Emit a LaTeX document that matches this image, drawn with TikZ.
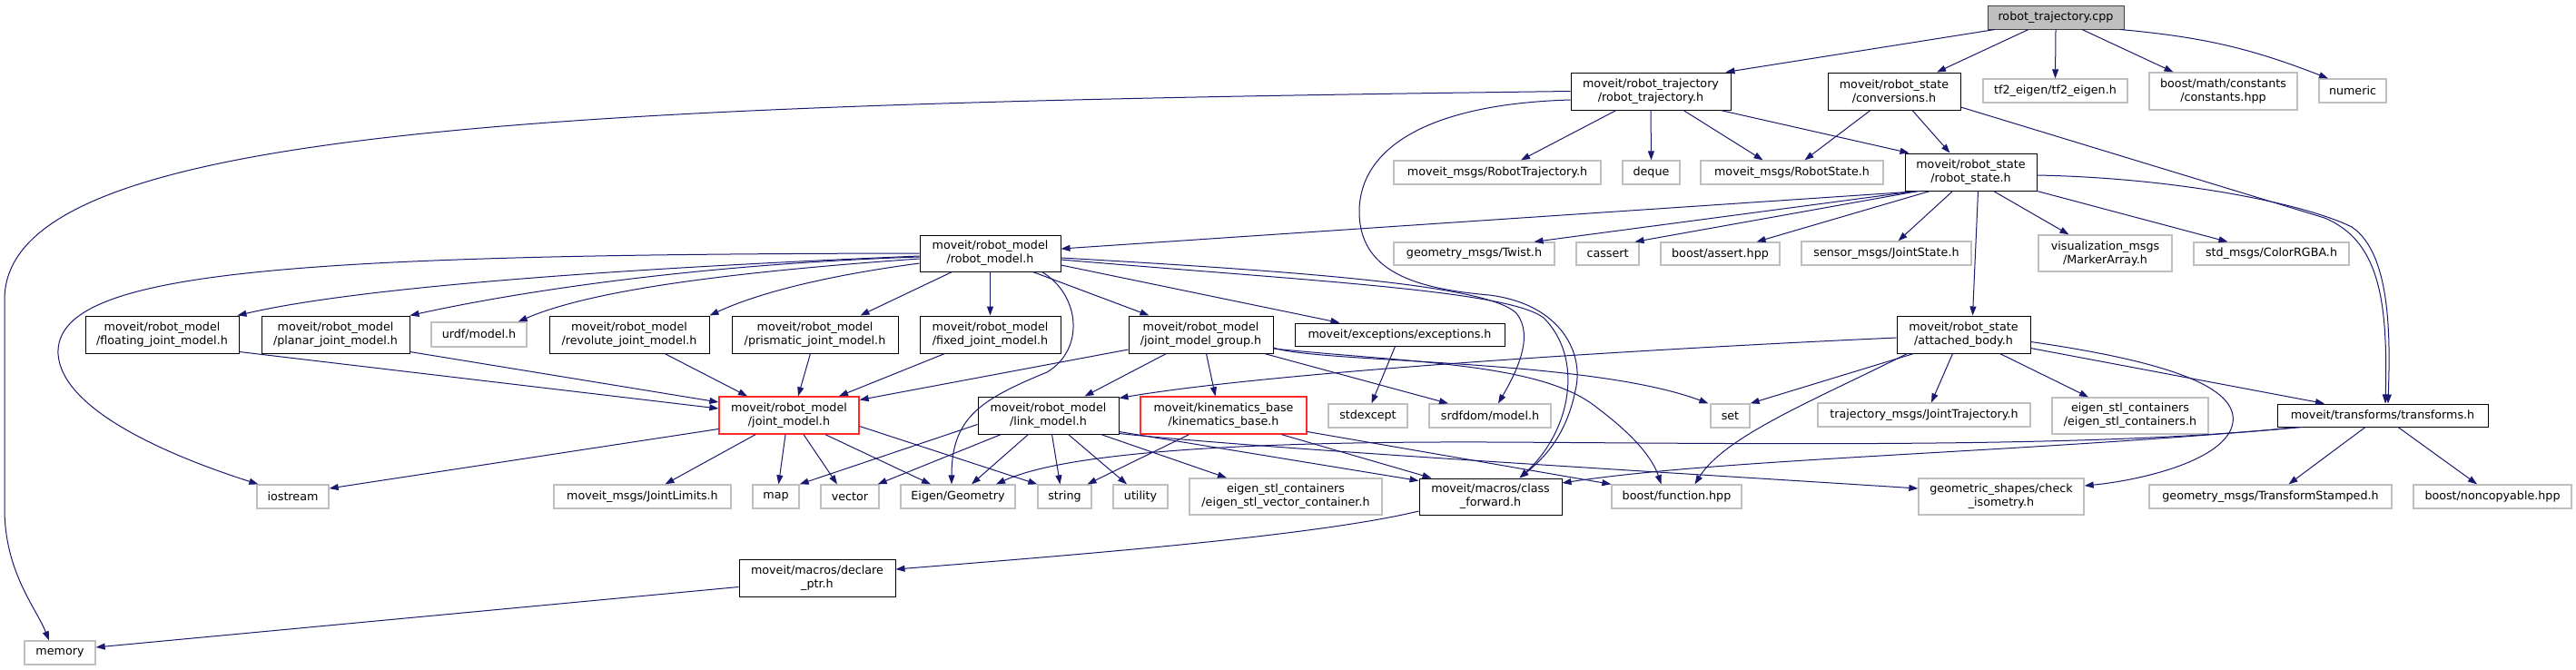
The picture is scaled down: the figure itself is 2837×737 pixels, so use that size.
\documentclass[tikz,border=0pt]{standalone}
\usepackage{fontspec}
\setmainfont{DejaVu Sans}
\usetikzlibrary{arrows.meta}
\definecolor{edgeblue}{HTML}{191970}
\definecolor{extgray}{HTML}{BFBFBF}
\definecolor{truncred}{HTML}{FF2A2A}
\definecolor{rootfill}{HTML}{BFBFBF}
\definecolor{rootborder}{HTML}{404040}
\tikzset{
  base/.style={rectangle, inner sep=0pt, align=center, font=\fontsize{12.7pt}{15pt}\selectfont},
  doc/.style={base, draw=black, line width=1pt},
  ext/.style={base, draw=extgray, line width=1.3pt},
  trunc/.style={base, draw=truncred, line width=1.3pt},
  rootbox/.style={base, draw=rootborder, fill=rootfill, line width=1pt},
  dep/.style={draw=edgeblue, line width=1pt, -{Triangle[length=10pt,width=7pt]}},
}
\begin{document}
\begin{tikzpicture}[x=1pt,y=-1pt]
\fill[white] (0,0) rectangle (2837,737);
\useasboundingbox (0,0) rectangle (2837,737);
% ---- nodes
\node[rootbox, minimum width=150pt, minimum height=26pt] (root) at (2264,19) {robot\_trajectory.cpp};
\node[doc, minimum width=176pt, minimum height=41pt] (rth) at (1818,100.5) {moveit/robot\_trajectory\\/robot\_trajectory.h};
\node[doc, minimum width=146pt, minimum height=41pt] (conv) at (2086,100.5) {moveit/robot\_state\\/conversions.h};
\node[ext, minimum width=159pt, minimum height=26pt] (tf2) at (2263.5,100) {tf2\_eigen/tf2\_eigen.h};
\node[ext, minimum width=163pt, minimum height=41pt] (const) at (2448.5,100.5) {boost/math/constants\\/constants.hpp};
\node[ext, minimum width=74pt, minimum height=26pt] (numeric) at (2591,100) {numeric};
\node[ext, minimum width=228pt, minimum height=26pt] (rtmsg) at (1649,190) {moveit\_msgs/RobotTrajectory.h};
\node[ext, minimum width=63pt, minimum height=26pt] (deque) at (1818.5,190) {deque};
\node[ext, minimum width=201pt, minimum height=26pt] (rsmsg) at (1973.5,190) {moveit\_msgs/RobotState.h};
\node[doc, minimum width=145pt, minimum height=41pt] (rsh) at (2170.5,189.5) {moveit/robot\_state\\/robot\_state.h};
\node[doc, minimum width=155pt, minimum height=40pt] (rmh) at (1090.5,279) {moveit/robot\_model\\/robot\_model.h};
\node[ext, minimum width=177pt, minimum height=25pt] (twist) at (1623.5,279.5) {geometry\_msgs/Twist.h};
\node[ext, minimum width=69pt, minimum height=25pt] (cassert) at (1770.5,279.5) {cassert};
\node[ext, minimum width=131pt, minimum height=25pt] (bassert) at (1894.5,279.5) {boost/assert.hpp};
\node[ext, minimum width=187pt, minimum height=26pt] (jstate) at (2077.5,279) {sensor\_msgs/JointState.h};
\node[ext, minimum width=147pt, minimum height=40pt] (marker) at (2318.5,279) {visualization\_msgs\\/MarkerArray.h};
\node[ext, minimum width=171pt, minimum height=25pt] (color) at (2501.5,279.5) {std\_msgs/ColorRGBA.h};
\node[doc, minimum width=169pt, minimum height=41pt] (floating) at (178.5,368.5) {moveit/robot\_model\\/floating\_joint\_model.h};
\node[doc, minimum width=163pt, minimum height=41pt] (planar) at (369.5,368.5) {moveit/robot\_model\\/planar\_joint\_model.h};
\node[ext, minimum width=105pt, minimum height=27pt] (urdf) at (527.5,368.5) {urdf/model.h};
\node[doc, minimum width=176pt, minimum height=41pt] (revolute) at (693,368.5) {moveit/robot\_model\\/revolute\_joint\_model.h};
\node[doc, minimum width=183pt, minimum height=41pt] (prismatic) at (897.5,368.5) {moveit/robot\_model\\/prismatic\_joint\_model.h};
\node[doc, minimum width=155pt, minimum height=41pt] (fixed) at (1090.5,368.5) {moveit/robot\_model\\/fixed\_joint\_model.h};
\node[doc, minimum width=159pt, minimum height=41pt] (jmg) at (1322.5,368.5) {moveit/robot\_model\\/joint\_model\_group.h};
\node[doc, minimum width=231pt, minimum height=25pt] (exc) at (1541.5,368.5) {moveit/exceptions/exceptions.h};
\node[doc, minimum width=147pt, minimum height=41pt] (att) at (2162.5,368.5) {moveit/robot\_state\\/attached\_body.h};
\node[trunc, minimum width=154pt, minimum height=41pt] (jm) at (869,457.5) {moveit/robot\_model\\/joint\_model.h};
\node[doc, minimum width=155pt, minimum height=41pt] (lm) at (1154.5,457.5) {moveit/robot\_model\\/link\_model.h};
\node[trunc, minimum width=183pt, minimum height=41pt] (kb) at (1347.5,457.5) {moveit/kinematics\_base\\/kinematics\_base.h};
\node[ext, minimum width=87pt, minimum height=26pt] (stdexc) at (1506.5,458) {stdexcept};
\node[ext, minimum width=134pt, minimum height=26pt] (srdf) at (1641,458) {srdfdom/model.h};
\node[ext, minimum width=43pt, minimum height=26pt] (set) at (1905.5,458) {set};
\node[ext, minimum width=234pt, minimum height=26pt] (jtraj) at (2119,457) {trajectory\_msgs/JointTrajectory.h};
\node[ext, minimum width=172pt, minimum height=40pt] (esc) at (2346,458) {eigen\_stl\_containers\\/eigen\_stl\_containers.h};
\node[doc, minimum width=232pt, minimum height=25pt] (tf) at (2624,457.5) {moveit/transforms/transforms.h};
\node[ext, minimum width=79pt, minimum height=26pt] (iostream) at (322.5,547) {iostream};
\node[ext, minimum width=195pt, minimum height=26pt] (jlim) at (707.5,547) {moveit\_msgs/JointLimits.h};
\node[ext, minimum width=51pt, minimum height=26pt] (map) at (854.5,547) {map};
\node[ext, minimum width=64pt, minimum height=26pt] (vector) at (936,547) {vector};
\node[ext, minimum width=126pt, minimum height=26pt] (eigen) at (1055,547) {Eigen/Geometry};
\node[ext, minimum width=59pt, minimum height=26pt] (string) at (1172.5,547) {string};
\node[ext, minimum width=60pt, minimum height=26pt] (utility) at (1256,547) {utility};
\node[ext, minimum width=212pt, minimum height=40pt] (esvc) at (1416,547) {eigen\_stl\_containers\\/eigen\_stl\_vector\_container.h};
\node[doc, minimum width=157pt, minimum height=40pt] (cf) at (1641.5,547) {moveit/macros/class\\\_forward.h};
\node[ext, minimum width=143pt, minimum height=26pt] (bfunc) at (1846.5,547) {boost/function.hpp};
\node[ext, minimum width=182pt, minimum height=40pt] (ciso) at (2204,547) {geometric\_shapes/check\\\_isometry.h};
\node[ext, minimum width=267pt, minimum height=26pt] (tstamp) at (2500.5,547) {geometry\_msgs/TransformStamped.h};
\node[ext, minimum width=174pt, minimum height=26pt] (noncopy) at (2745,547) {boost/noncopyable.hpp};
\node[doc, minimum width=172pt, minimum height=41pt] (dptr) at (900,636.5) {moveit/macros/declare\\\_ptr.h};
\node[ext, minimum width=78pt, minimum height=26pt] (memory) at (66,719) {memory};
% ---- edges from robot_trajectory.cpp
\draw[dep] ([xshift=-67pt]root.south) -- ([xshift=-6pt]rth.north east);
\draw[dep] ([xshift=-30pt]root.south) -- ([xshift=47pt]conv.north);
\draw[dep] (root.south) -- (tf2.north);
\draw[dep] ([xshift=29pt]root.south) -- ([xshift=-55pt]const.north);
\draw[dep] ([xshift=71pt]root.south) to[bend left=8] ([xshift=-27pt]numeric.north);
% ---- robot_trajectory.h
\draw[dep] (rth.west) .. controls (600,115) and (5,140) .. (5,330) -- (5,560) .. controls (5,630) and (40,670) .. ([xshift=-12pt]memory.north);
\draw[dep] ([xshift=-38pt]rth.south) -- ([xshift=26pt]rtmsg.north);
\draw[dep] (rth.south) -- (deque.north);
\draw[dep] ([xshift=36pt]rth.south) -- ([xshift=-32pt]rsmsg.north);
\draw[dep] ([xshift=77pt]rth.south) -- ([xshift=5pt]rsh.north west);
\draw[dep] ([yshift=-9.5pt]rth.west) .. controls (1560,115) and (1497,170) .. (1497,233) .. controls (1497,300) and (1560,318) .. (1640,325) .. controls (1720,335) and (1745,390) .. (1735,430) .. controls (1725,480) and (1700,505) .. ([xshift=32pt]cf.north);
% ---- conversions.h
\draw[dep] ([xshift=-26pt]conv.south) -- ([xshift=14pt]rsmsg.north);
\draw[dep] ([xshift=20pt]conv.south) -- ([xshift=-23pt]rsh.north);
\draw[dep] ([yshift=-17.5pt]conv.east) -- (2560,240) .. controls (2620,265) and (2630,330) .. ([xshift=3pt]tf.north);
% ---- robot_state.h
\draw[dep] ([xshift=-55pt]rsh.south) -- ([yshift=5pt]rmh.east);
\draw[dep] ([xshift=-60pt]rsh.south) -- ([xshift=66pt]twist.north);
\draw[dep] ([xshift=-58pt]rsh.south) -- ([xshift=30pt]cassert.north);
\draw[dep] ([xshift=-45pt]rsh.south) -- ([xshift=40pt]bassert.north);
\draw[dep] ([xshift=-20pt]rsh.south) -- ([xshift=13pt]jstate.north);
\draw[dep] ([xshift=8pt]rsh.south) -- ([xshift=10pt]att.north);
\draw[dep] ([xshift=25pt]rsh.south) -- ([xshift=-40pt]marker.north);
\draw[dep] (rsh.south east) -- ([xshift=-48pt]color.north);
\draw[dep] ([yshift=-3.5pt]rsh.east) .. controls (2400,196) and (2540,225) .. (2590,250) .. controls (2635,280) and (2632,380) .. ([xshift=6pt]tf.north);
% ---- robot_model.h
\draw[dep] ([yshift=-3pt]rmh.west) .. controls (700,295) and (400,315) .. ([xshift=-2pt]floating.north east);
\draw[dep] ([yshift=-4pt]rmh.west) .. controls (800,290) and (600,315) .. (planar.north east);
\draw[dep] ([yshift=-6pt]rmh.west) .. controls (800,300) and (650,320) .. ([xshift=-10pt]urdf.north east);
\draw[dep] ([yshift=-11pt]rmh.west) .. controls (900,305) and (830,325) .. (revolute.north east);
\draw[dep] ([xshift=-42pt]rmh.south) -- ([xshift=50pt]prismatic.north);
\draw[dep] (rmh.south) -- (fixed.north);
\draw[dep] ([xshift=47pt]rmh.south) -- ([xshift=-57pt]jmg.north);
\draw[dep] ([yshift=-13pt]rmh.east) -- ([xshift=-66pt]exc.north);
\draw[dep] ([yshift=-5pt]rmh.east) .. controls (1450,300) and (1640,315) .. (1670,345) .. controls (1690,370) and (1670,410) .. ([xshift=9pt]srdf.north);
\draw[dep] ([yshift=-7pt]rmh.east) .. controls (1450,310) and (1660,320) .. (1700,350) .. controls (1745,395) and (1730,475) .. ([xshift=32pt]cf.north);
\draw[dep] (rmh.west) .. controls (300,280) and (60,300) .. (64,390) .. controls (68,450) and (180,500) .. ([xshift=2pt]iostream.north west);
\draw[dep] ([xshift=57pt]rmh.south) .. controls (1190,325) and (1195,385) .. (1153,410) .. controls (1080,440) and (1048,460) .. ([xshift=-7pt]eigen.north);
% ---- joint models -> joint_model.h
\draw[dep] ([yshift=2pt]floating.south east) -- ([yshift=7.5pt]jm.west);
\draw[dep] ([yshift=2pt]planar.south east) -- ([yshift=14.5pt]jm.west);
\draw[dep] ([xshift=39pt]revolute.south) -- ([xshift=-46pt]jm.north);
\draw[dep] ([xshift=-5pt]prismatic.south) -- ([xshift=10pt]jm.north);
\draw[dep] ([xshift=-50pt]fixed.south) -- ([xshift=55pt]jm.north);
% ---- joint_model_group.h
\draw[dep] ([yshift=-16.5pt]jmg.west) -- ([yshift=17pt]jm.east);
\draw[dep] ([xshift=-38pt]jmg.south) -- ([xshift=40pt]lm.north);
\draw[dep] ([xshift=6pt]jmg.south) -- ([xshift=-9pt]kb.north);
\draw[dep] ([xshift=70pt]jmg.south) -- ([xshift=-46pt]srdf.north);
\draw[dep] ([yshift=-14.5pt]jmg.east) .. controls (1450,400) and (1750,395) .. ([xshift=-2pt]set.north west);
\draw[dep] ([yshift=-15.5pt]jmg.east) .. controls (1560,400) and (1700,400) .. (1760,450) .. controls (1800,480) and (1820,505) .. ([xshift=-17pt]bfunc.north);
% ---- exceptions.h
\draw[dep] ([xshift=-5pt]exc.south) -- ([xshift=4pt]stdexc.north);
% ---- attached_body.h
\draw[dep] ([yshift=-3.5pt]att.west) .. controls (1800,385) and (1400,410) .. ([yshift=-2pt]lm.north east);
\draw[dep] ([xshift=-55pt]att.south) -- (set.north east);
\draw[dep] ([xshift=-62pt]att.south) .. controls (2000,440) and (1900,480) .. ([xshift=20pt]bfunc.north);
\draw[dep] ([xshift=-12pt]att.south) -- ([xshift=8pt]jtraj.north);
\draw[dep] ([xshift=40pt]att.south) -- ([xshift=-46pt]esc.north);
\draw[dep] ([yshift=-15pt]att.east) -- ([xshift=-64pt]tf.north);
\draw[dep] ([yshift=-8pt]att.east) .. controls (2400,400) and (2470,430) .. (2458,470) .. controls (2445,510) and (2350,530) .. ([yshift=12pt]ciso.east);
% ---- joint_model.h
\draw[dep] ([yshift=-15pt]jm.west) -- ([yshift=9pt]iostream.east);
\draw[dep] ([xshift=-37pt]jm.south) -- ([xshift=25pt]jlim.north);
\draw[dep] ([xshift=-4pt]jm.south) -- ([xshift=3pt]map.north);
\draw[dep] ([xshift=16pt]jm.south) -- ([xshift=-14pt]vector.north);
\draw[dep] ([xshift=40pt]jm.south) -- ([xshift=-30pt]eigen.north);
\draw[dep] ([yshift=-12pt]jm.east) -- (string.north west);
% ---- link_model.h
\draw[dep] ([yshift=-10pt]lm.west) -- (map.north east);
\draw[dep] ([xshift=-52pt]lm.south) -- ([xshift=-2pt]vector.north east);
\draw[dep] ([xshift=-22pt]lm.south) -- ([xshift=15pt]eigen.north);
\draw[dep] ([xshift=4pt]lm.south) -- ([xshift=-5pt]string.north);
\draw[dep] ([xshift=22pt]lm.south) -- ([xshift=-15pt]utility.north);
\draw[dep] ([xshift=58pt]lm.south) -- ([xshift=-65pt]esvc.north);
\draw[dep] ([yshift=-18pt]lm.east) -- ([yshift=-3pt]cf.north west);
\draw[dep] ([yshift=-20pt]lm.east) .. controls (1400,495) and (1800,518) .. ([yshift=9pt]ciso.west);
% ---- kinematics_base.h
\draw[dep] ([xshift=-38pt]kb.south) -- ([xshift=25pt]string.north);
\draw[dep] ([xshift=64pt]kb.south) -- ([xshift=-65pt]cf.north);
\draw[dep] ([yshift=-18pt]kb.east) -- (bfunc.north west);
% ---- transforms.h
\draw[dep] ([xshift=-94pt]tf.south) .. controls (2300,495) and (1900,488) .. (1640,487) .. controls (1350,486) and (1170,500) .. ([xshift=42pt]eigen.north);
\draw[dep] ([xshift=-88pt]tf.south) .. controls (2200,500) and (1900,505) .. ([yshift=15pt]cf.east);
\draw[dep] ([xshift=-19pt]tf.south) -- ([xshift=20pt]tstamp.north);
\draw[dep] ([xshift=17pt]tf.south) -- ([xshift=-17pt]noncopy.north);
% ---- macros
\draw[dep] ([yshift=-16pt]cf.west) .. controls (1450,590) and (1200,610) .. ([yshift=9.5pt]dptr.east);
\draw[dep] ([yshift=-10pt]dptr.west) -- ([yshift=6pt]memory.east);
\end{tikzpicture}
\end{document}
